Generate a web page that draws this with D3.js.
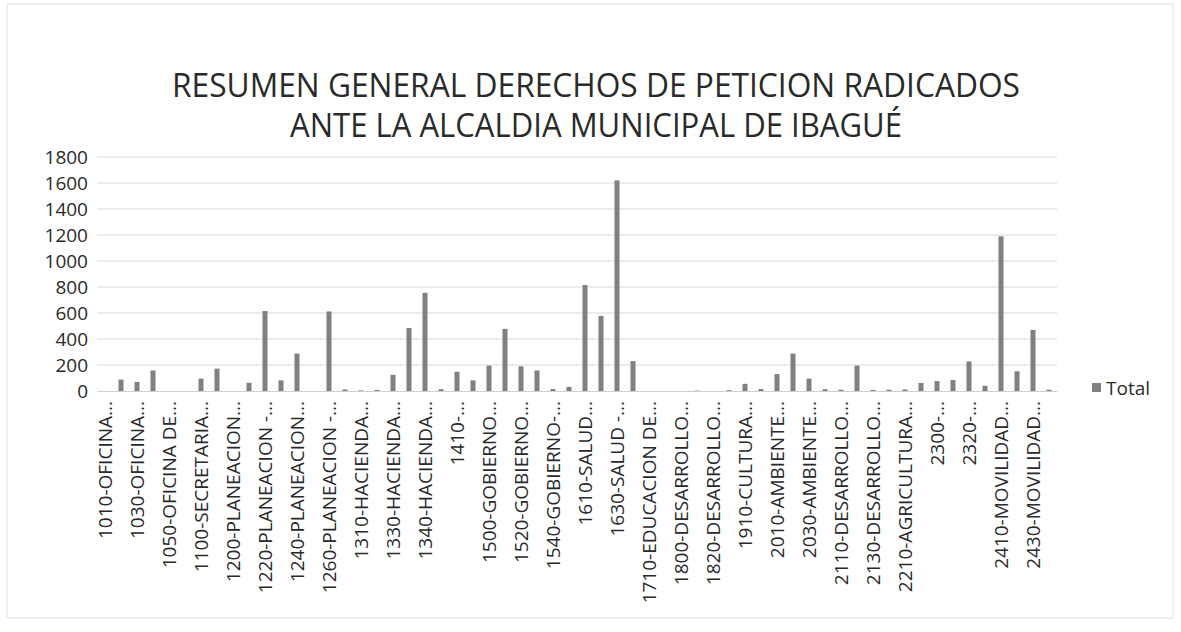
<!doctype html>
<html>
<head>
  <script src="https://cdnjs.cloudflare.com/ajax/libs/d3/7.8.5/d3.min.js" type="text/JavaScript"></script>
  <style>
    body { margin: 0; background: #fff; }
    text { font-family: "Open Sans", sans-serif; fill: #2a2a2a; }
  </style>
</head>
<body>
<svg height="632" width="1181"></svg>
<script type="text/javascript">
// visible axis labels (Excel shows every second category)
var labels = ["1010-OFICINA...", "1030-OFICINA...", "1050-OFICINA DE...", "1100-SECRETARIA...",
  "1200-PLANEACION...", "1220-PLANEACION -...", "1240-PLANEACION...", "1260-PLANEACION -...",
  "1310-HACIENDA...", "1330-HACIENDA...", "1340-HACIENDA...", "1410-...",
  "1500-GOBIERNO...", "1520-GOBIERNO...", "1540-GOBIERNO-...", "1610-SALUD...",
  "1630-SALUD -...", "1710-EDUCACION DE...", "1800-DESARROLLO...", "1820-DESARROLLO...",
  "1910-CULTURA...", "2010-AMBIENTE...", "2030-AMBIENTE...", "2110-DESARROLLO...",
  "2130-DESARROLLO...", "2210-AGRICULTURA...", "2300-...", "2320-...",
  "2410-MOVILIDAD...", "2430-MOVILIDAD..."];

// Total per category, 60 bars
var totals = [0, 88, 70, 158, 0, 0, 95, 172, 0, 63,
  615, 82, 288, 0, 612, 12, 5, 8, 125, 485,
  755, 14, 148, 82, 195, 478, 190, 158, 15, 32,
  815, 578, 1620, 230, 0, 0, 0, 3, 0, 6,
  55, 15, 130, 288, 95, 14, 10, 195, 8, 10,
  12, 62, 76, 84, 228, 40, 1190, 152, 470, 10];

var yTicks = [0, 200, 400, 600, 800, 1000, 1200, 1400, 1600, 1800];
var titleLines = ["RESUMEN GENERAL DERECHOS DE PETICION RADICADOS", "ANTE LA ALCALDIA MUNICIPAL DE IBAGUÉ"];
var titleWidths = [848, 612];
var seriesName = "Total";

var svg = d3.select("svg");

// faint chart border from the scan
svg.append("rect")
   .attr("x", 7).attr("y", 4).attr("width", 1166).attr("height", 614)
   .style("fill", "none").style("stroke", "#e2e2e2");

var x = d3.scaleBand()
   .domain(d3.range(totals.length))
   .range([97, 1057])
   .paddingInner(0.6875)
   .paddingOuter(0.34375);

var y = d3.scaleLinear().domain([0, 1800]).range([391, 157]);

// gridlines
svg.append("g")
   .selectAll("line").data(yTicks.slice(1))
   .enter()
   .append("line")
   .attr("x1", 97).attr("x2", 1057)
   .attr("y1", d => y(d)).attr("y2", d => y(d))
   .style("stroke", "#d9d9d9")
   .style("stroke-width", 1);

// y axis labels
svg.append("g")
   .selectAll("text").data(yTicks)
   .enter()
   .append("text")
   .attr("x", 88)
   .attr("y", d => y(d))
   .attr("dy", "0.35em")
   .attr("text-anchor", "end")
   .style("font-size", "19px")
   .text(d => d);

// bars
svg.append("g")
   .selectAll("rect").data(totals)
   .enter()
   .append("rect")
   .attr("x", (d, i) => x(i))
   .attr("width", x.bandwidth())
   .attr("y", d => y(d))
   .attr("height", d => y(0) - y(d))
   .style("fill", "#808080");

// x axis
var xAxis = d3.axisBottom(x)
   .tickSize(0)
   .tickPadding(0)
   .tickFormat(i => i % 2 == 0 ? labels[i / 2] : "");

var gx = svg.append("g")
   .attr("transform", "translate(0," + y(0) + ")")
   .call(xAxis);
gx.select(".domain").style("stroke", "#cfcfcf");
gx.selectAll(".tick text")
   .attr("transform", "rotate(-90)")
   .attr("x", -10)
   .attr("y", 0)
   .attr("dy", "0.35em")
   .attr("text-anchor", "end")
   .style("font-size", "19px")
   .style("fill", "#2a2a2a");

// title
svg.append("g")
   .selectAll("text").data(titleLines)
   .enter()
   .append("text")
   .attr("x", 596)
   .attr("y", (d, i) => 97 + i * 40)
   .attr("text-anchor", "middle")
   .attr("textLength", (d, i) => titleWidths[i])
   .attr("lengthAdjust", "spacingAndGlyphs")
   .style("font-size", "32px")
   .text(d => d);

// legend
svg.append("rect")
   .attr("x", 1092).attr("y", 383).attr("width", 9).attr("height", 9)
   .style("fill", "#808080");
svg.append("text")
   .attr("x", 1106).attr("y", 388)
   .attr("dy", "0.35em")
   .style("font-size", "19px")
   .text(seriesName);
</script>
</body>
</html>
